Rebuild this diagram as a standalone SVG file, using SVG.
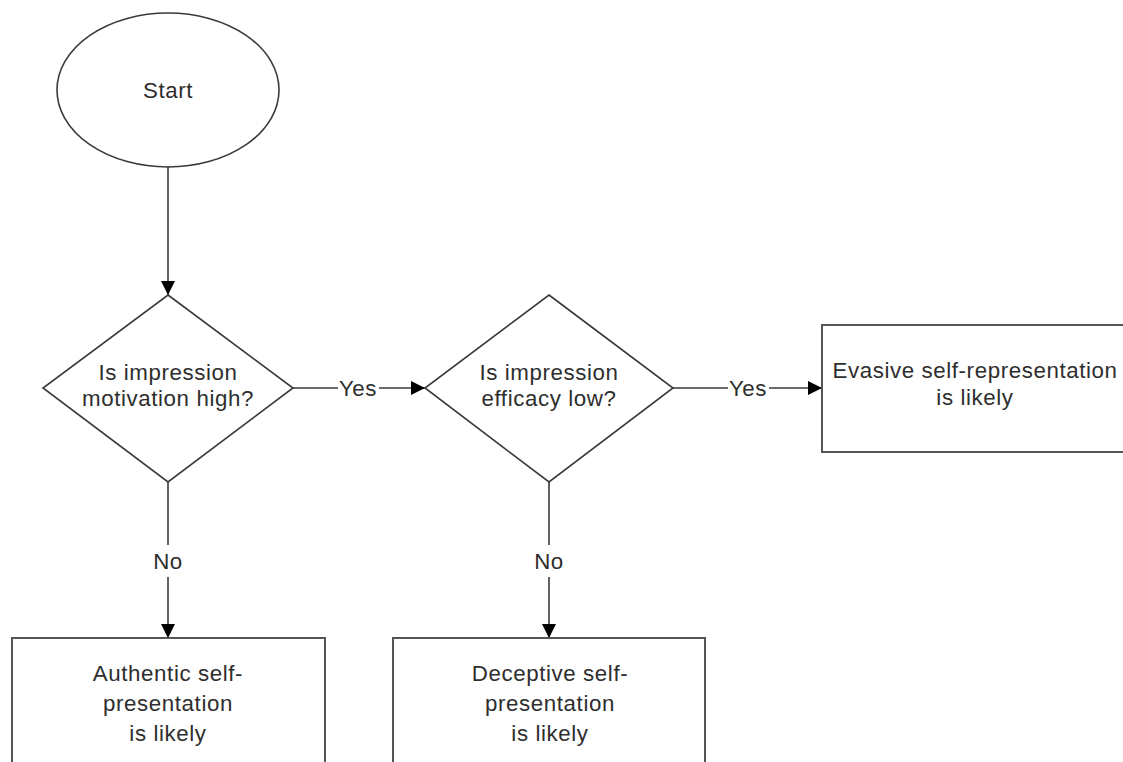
<svg xmlns="http://www.w3.org/2000/svg" width="1123" height="762" viewBox="0 0 1123 762">
<style>
.shape{fill:#fff;stroke:#3a3a3a;stroke-width:1.6}
.box{fill:#fff;stroke:#555;stroke-width:2}
.edge{fill:none;stroke:#3a3a3a;stroke-width:1.6}
text{font-family:"Liberation Sans",Arial,sans-serif;font-size:22.3px;fill:#2e2e2e;text-anchor:middle;letter-spacing:0.6px}
</style>
<defs>
<marker id="arr" viewBox="0 0 14 14" refX="14" refY="7" markerWidth="14" markerHeight="14" markerUnits="userSpaceOnUse" orient="auto">
<path d="M0,0 L14,7 L0,14 Z" fill="#000"/>
</marker>
</defs>
<rect width="1123" height="762" fill="#fff"/>
<g id="connectors">
<line class="edge" x1="168" y1="167" x2="168" y2="295" marker-end="url(#arr)"/>
<line class="edge" x1="293" y1="388" x2="338" y2="388"/>
<line class="edge" x1="379" y1="388" x2="425" y2="388" marker-end="url(#arr)"/>
<text x="358" y="396">Yes</text>
<line class="edge" x1="673" y1="388" x2="728" y2="388"/>
<line class="edge" x1="769" y1="388" x2="822" y2="388" marker-end="url(#arr)"/>
<text x="748" y="396">Yes</text>
<line class="edge" x1="168" y1="482" x2="168" y2="545"/>
<line class="edge" x1="168" y1="577" x2="168" y2="638" marker-end="url(#arr)"/>
<text x="168" y="569">No</text>
<line class="edge" x1="549" y1="482" x2="549" y2="545"/>
<line class="edge" x1="549" y1="577" x2="549" y2="638" marker-end="url(#arr)"/>
<text x="549" y="569">No</text>
</g>
<g id="start">
<ellipse class="shape" cx="168" cy="90" rx="111" ry="77"/>
<text x="168" y="98">Start</text>
</g>
<g id="decision1">
<polygon class="shape" points="168,295 293,388 168,482 43,388"/>
<text x="168" y="380">Is impression</text>
<text x="168" y="406">motivation high?</text>
</g>
<g id="decision2">
<polygon class="shape" points="549,295 673,388 549,482 425,388"/>
<text x="549" y="380">Is impression</text>
<text x="549" y="406">efficacy low?</text>
</g>
<g id="evasive">
<rect class="box" x="822" y="325" width="310" height="127"/>
<text x="975" y="378">Evasive self-representation</text>
<text x="975" y="405">is likely</text>
</g>
<g id="authentic">
<rect class="box" x="12" y="638" width="313" height="140"/>
<text x="168" y="681">Authentic self-</text>
<text x="168" y="711">presentation</text>
<text x="168" y="741">is likely</text>
</g>
<g id="deceptive">
<rect class="box" x="393" y="638" width="312" height="140"/>
<text x="550" y="681">Deceptive self-</text>
<text x="550" y="711">presentation</text>
<text x="550" y="741">is likely</text>
</g>
</svg>
